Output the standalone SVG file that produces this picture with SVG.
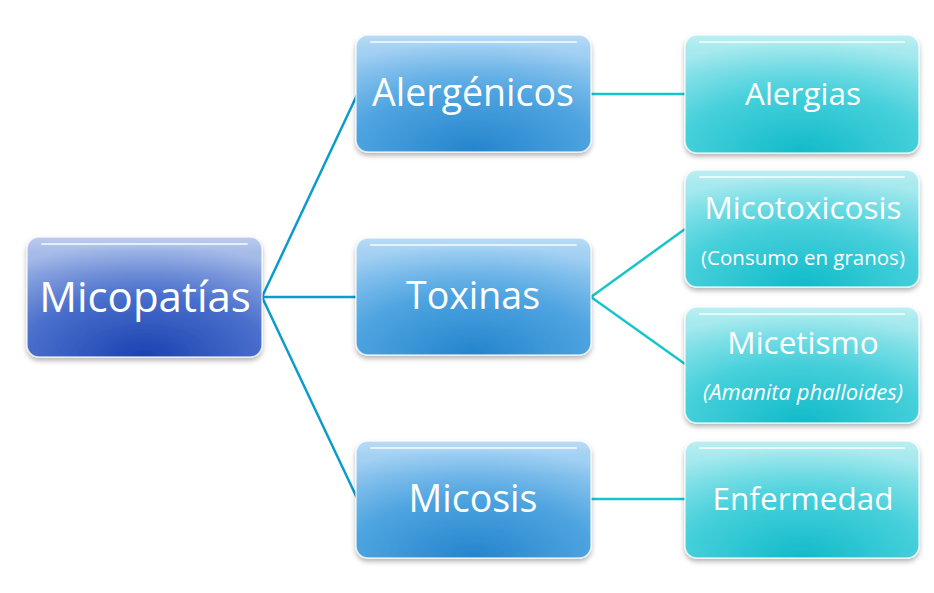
<svg xmlns="http://www.w3.org/2000/svg" width="934" height="593" viewBox="0 0 934 593">
<defs>
<radialGradient id="gRoot" cx="0.5" cy="1" r="0.95" fx="0.5" fy="1">
<stop offset="0" stop-color="#1a42b0"/>
<stop offset="0.55" stop-color="#4a6fcc"/>
<stop offset="1" stop-color="#9fb6e6"/>
</radialGradient>
<radialGradient id="gMid" cx="0.5" cy="1" r="0.95" fx="0.5" fy="1">
<stop offset="0" stop-color="#2484cc"/>
<stop offset="0.55" stop-color="#4ea4e0"/>
<stop offset="1" stop-color="#9ccdf2"/>
</radialGradient>
<radialGradient id="gLeaf" cx="0.5" cy="1" r="0.95" fx="0.5" fy="1">
<stop offset="0" stop-color="#12bac9"/>
<stop offset="0.55" stop-color="#46d0db"/>
<stop offset="1" stop-color="#a0e8ed"/>
</radialGradient>
<linearGradient id="gloss" x1="0" y1="0" x2="0" y2="1">
<stop offset="0" stop-color="#ffffff" stop-opacity="0.3"/>
<stop offset="0.12" stop-color="#ffffff" stop-opacity="0.08"/>
<stop offset="0.3" stop-color="#ffffff" stop-opacity="0"/>
</linearGradient>
<filter id="sh" x="-10%" y="-10%" width="120%" height="130%">
<feDropShadow dx="0" dy="3" stdDeviation="2.5" flood-color="#000" flood-opacity="0.3"/>
</filter>
</defs>
<style>
.box{stroke:#ffffff;stroke-width:1.5;stroke-opacity:0.7;filter:url(#sh)}
.gl{fill:url(#gloss)}
.hl{fill:none;stroke:#ffffff;stroke-width:2;stroke-opacity:0.7;stroke-linecap:round}
text{font-family:"Open Sans","Liberation Sans",sans-serif;fill:#ffffff;text-anchor:middle}
.big{font-size:42px}
.mid{font-size:37.5px}
.leaf{font-size:31.5px}
.sub{font-size:20.5px}
.ital{font-size:22px;font-style:italic}
.c1{stroke:#0b9ccc;stroke-width:2.5;fill:none}
.c2{stroke:#16c6cc;stroke-width:2.5;fill:none}
</style>
<rect width="934" height="593" fill="#ffffff"/>
<g id="connectors">
<path class="c1" d="M262 297 L357 95 M262 297 L357 297 M262 297 L357 498"/>
<path class="c2" d="M591 94 L685 94 M591 297 L685 229 M591 297 L685 364 M591 499 L685 499"/>
</g>
<g id="n-micopatias">
<rect class="box" x="27" y="237" width="235" height="120" rx="12" fill="url(#gRoot)"/>
<rect x="27" y="237" width="235" height="120" rx="12" class="gl"/>
<path class="hl" d="M42 244 H247"/>
<text class="big" x="145" y="312">Micopatías</text>
</g>
<g id="n-alergenicos">
<rect class="box" x="356" y="35" width="235" height="117" rx="12" fill="url(#gMid)"/>
<rect x="356" y="35" width="235" height="117" rx="12" class="gl"/>
<path class="hl" d="M371 42 H576"/>
<text class="mid" x="473" y="106">Alergénicos</text>
</g>
<g id="n-toxinas">
<rect class="box" x="356" y="238" width="235" height="117" rx="12" fill="url(#gMid)"/>
<rect x="356" y="238" width="235" height="117" rx="12" class="gl"/>
<path class="hl" d="M371 245 H576"/>
<text class="mid" x="473" y="309">Toxinas</text>
</g>
<g id="n-micosis">
<rect class="box" x="356" y="441" width="235" height="117" rx="12" fill="url(#gMid)"/>
<rect x="356" y="441" width="235" height="117" rx="12" class="gl"/>
<path class="hl" d="M371 448 H576"/>
<text class="mid" x="473" y="512">Micosis</text>
</g>
<g id="n-alergias">
<rect class="box" x="685" y="35" width="234" height="118" rx="12" fill="url(#gLeaf)"/>
<rect x="685" y="35" width="234" height="118" rx="12" class="gl"/>
<path class="hl" d="M700 42 H904"/>
<text class="leaf" x="803" y="105">Alergias</text>
</g>
<g id="n-micotoxicosis">
<rect class="box" x="685" y="170" width="234" height="117" rx="12" fill="url(#gLeaf)"/>
<rect x="685" y="170" width="234" height="117" rx="12" class="gl"/>
<path class="hl" d="M700 177 H904"/>
<text class="leaf" x="803" y="219">Micotoxicosis</text>
<text class="sub" x="803" y="265">(Consumo en granos)</text>
</g>
<g id="n-micetismo">
<rect class="box" x="685" y="307" width="234" height="116" rx="12" fill="url(#gLeaf)"/>
<rect x="685" y="307" width="234" height="116" rx="12" class="gl"/>
<path class="hl" d="M700 314 H904"/>
<text class="leaf" x="803" y="354">Micetismo</text>
<text class="ital" x="803" y="400">(Amanita phalloides)</text>
</g>
<g id="n-enfermedad">
<rect class="box" x="685" y="441" width="234" height="117" rx="12" fill="url(#gLeaf)"/>
<rect x="685" y="441" width="234" height="117" rx="12" class="gl"/>
<path class="hl" d="M700 448 H904"/>
<text class="leaf" x="803" y="510">Enfermedad</text>
</g>
</svg>
